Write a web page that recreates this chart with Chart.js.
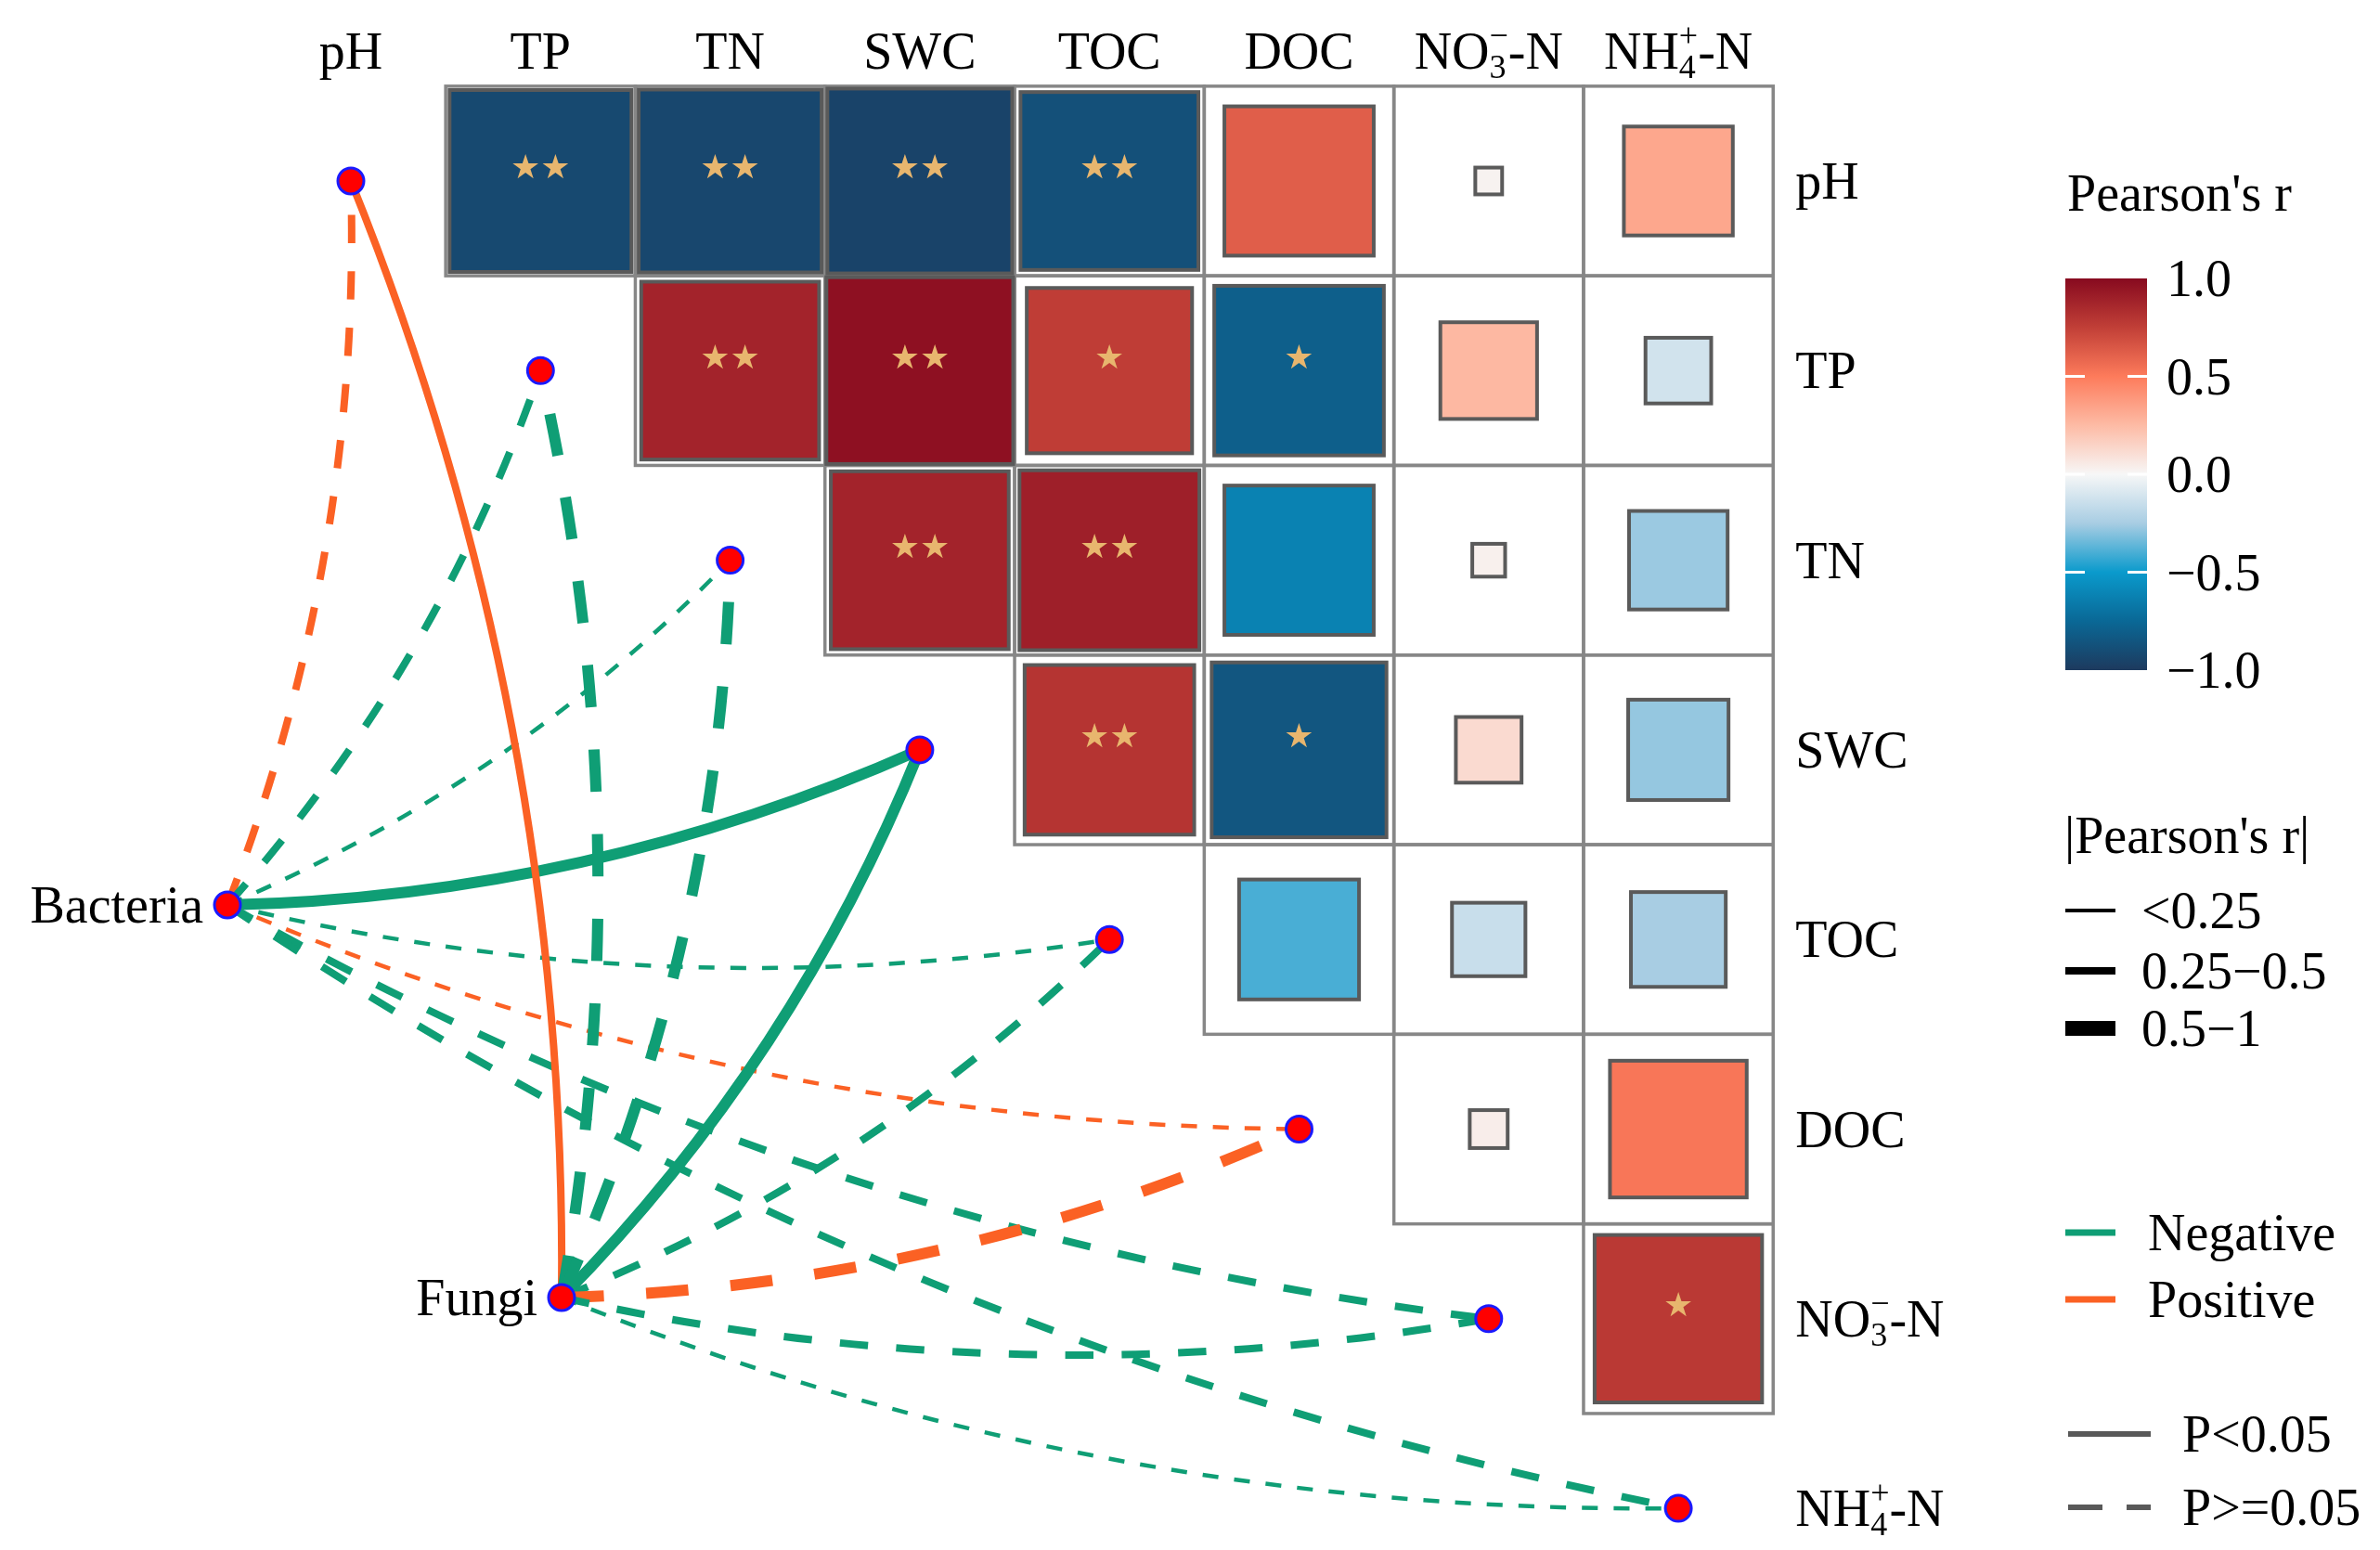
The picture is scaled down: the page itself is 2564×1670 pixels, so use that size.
<!DOCTYPE html>
<html>
<head>
<meta charset="utf-8">
<script src="https://cdn.jsdelivr.net/npm/chart.js@4.4.1/dist/chart.umd.min.js"></script>
<style>
  html, body { margin: 0; padding: 0; background: #fff; }
  #wrap { width: 2564px; height: 1670px; position: relative; }
</style>
</head>
<body>
<div id="wrap"><canvas id="chart"></canvas></div>
<script>
// --- data ---
const envVars = ['pH', 'TP', 'TN', 'SWC', 'TOC', 'DOC', 'NO3-N', 'NH4-N'];
const specNames = ['Bacteria', 'Fungi'];

// Pearson's r, upper triangle: each row against the variables to its right
const rowPH  = [-0.92, -0.93, -0.95, -0.88, 0.62, 0.02, 0.33];
const rowTP  = [0.88, 0.97, 0.76, -0.80, 0.26, -0.12];
const rowTN  = [0.88, 0.90, -0.62, 0.03, -0.27];
const rowSWC = [0.80, -0.85, 0.12, -0.28];
const rowTOC = [-0.40, -0.15, -0.25];
const rowDOC = [0.04, 0.52];
const rowNO3 = [0.78];

// significance marks, same layout
const sigPH  = ['**', '**', '**', '**', '', '', ''];
const sigTP  = ['**', '**', '*', '*', '', ''];
const sigTN  = ['**', '**', '', '', ''];
const sigSWC = ['**', '*', '', ''];
const sigTOC = ['', '', ''];
const sigDOC = ['', ''];
const sigNO3 = ['*'];

// Mantel links, order as envVars
const bacteriaR = [0.30, -0.35, -0.18, -0.60, -0.15, 0.20, -0.32, -0.35];
const bacteriaP = [0.12, 0.20, 0.45, 0.01, 0.40, 0.35, 0.18, 0.16];
const fungiR    = [0.42, -0.58, -0.55, -0.56, -0.30, 0.55, -0.34, -0.16];
const fungiP    = [0.03, 0.07, 0.09, 0.02, 0.25, 0.06, 0.22, 0.50];

const colorTicks = [1.0, 0.5, 0.0, -0.5, -1.0];

const corrRows = [rowPH, rowTP, rowTN, rowSWC, rowTOC, rowDOC, rowNO3];
const sigRows = [sigPH, sigTP, sigTN, sigSWC, sigTOC, sigDOC, sigNO3];

// --- layout ---
const W = 2564, H = 1670;
const CELL = 204.3, X0 = 378, Y0 = 195;
const specPos = [[-0.651, 3.818], [1.111, 5.888]];
const MAIN = '56px "Liberation Serif"';
const SMALL = '36px "Liberation Serif"';
const GREEN = '#0f9e75', ORANGE = '#fb6124';

const colorStops = [
    [-1, '#1d3a5e'], [-0.75, '#0a6896'], [-0.5, '#0a9acc'], [-0.25, '#a8cde3'],
    [0, '#f7f7f7'], [0.25, '#fdbba5'], [0.5, '#fd7b5b'], [0.75, '#c13f37'], [1, '#870a1f']
];

function hexRgb(h) {
    return [1, 3, 5].map(i => parseInt(h.slice(i, i + 2), 16));
}

function corrColor(r) {
    for (let k = 0; k < colorStops.length - 1; k++) {
        const [a, ca] = colorStops[k];
        const [b, cb] = colorStops[k + 1];
        if (r >= a && r <= b) {
            const t = (r - a) / (b - a);
            const A = hexRgb(ca), B = hexRgb(cb);
            const c = A.map((v, i) => Math.round(v + (B[i] - v) * t));
            return `rgb(${c[0]},${c[1]},${c[2]})`;
        }
    }
    return r < 0 ? colorStops[0][1] : colorStops[colorStops.length - 1][1];
}

const labelParts = {
    'NO3-N': ['NO', '3', '\u2212', '-N'],
    'NH4-N': ['NH', '4', '+', '-N']
};

function drawLabel(ctx, name, x, y, align) {
    ctx.fillStyle = '#000';
    ctx.textBaseline = 'alphabetic';
    const parts = labelParts[name];
    if (!parts) {
        ctx.font = MAIN;
        ctx.textAlign = align;
        ctx.fillText(name, x, y);
        return;
    }
    ctx.textAlign = 'left';
    ctx.font = MAIN;
    const w1 = ctx.measureText(parts[0]).width;
    const w3 = ctx.measureText(parts[3]).width;
    ctx.font = SMALL;
    const w2 = Math.max(ctx.measureText(parts[1]).width, ctx.measureText(parts[2]).width);
    const total = w1 + w2 + w3;
    const x0 = align === 'center' ? x - total / 2 : (align === 'right' ? x - total : x);
    ctx.font = MAIN;
    ctx.fillText(parts[0], x0, y);
    ctx.font = SMALL;
    ctx.fillText(parts[1], x0 + w1, y + 10);
    ctx.fillText(parts[2], x0 + w1, y - 24);
    ctx.font = MAIN;
    ctx.fillText(parts[3], x0 + w1 + w2, y);
}

function linkWidth(r) {
    const a = Math.abs(r);
    if (a < 0.25) return 4.5;
    if (a < 0.5) return 8;
    return 12;
}

// cells, grid and links
const corrPlugin = {
    id: 'corrPlugin',
    beforeDatasetsDraw(chart) {
        const ctx = chart.ctx;
        const xs = chart.scales.x, ys = chart.scales.y;
        const px = v => xs.getPixelForValue(v);
        const py = v => ys.getPixelForValue(v);
        ctx.save();

        // grid
        ctx.strokeStyle = '#878787';
        ctx.lineWidth = 3.5;
        corrRows.forEach((row, i) => {
            row.forEach((r, k) => {
                const j = i + 1 + k;
                const l = px(j - 0.5), rr = px(j + 0.5), t = py(i - 0.5), b = py(i + 0.5);
                ctx.strokeRect(l, t, rr - l, b - t);
            });
        });

        // squares
        corrRows.forEach((row, i) => {
            row.forEach((r, k) => {
                const j = i + 1 + k;
                const cx = px(j), cy = py(i);
                const side = Math.sqrt(Math.abs(r)) * (px(j + 0.5) - px(j - 0.5));
                ctx.fillStyle = corrColor(r);
                ctx.fillRect(cx - side / 2, cy - side / 2, side, side);
                ctx.strokeStyle = '#5a5a5a';
                ctx.lineWidth = 4;
                ctx.strokeRect(cx - side / 2, cy - side / 2, side, side);
                const s = sigRows[i][k];
                if (s) {
                    ctx.fillStyle = '#e8b66e';
                    ctx.font = '36px "DejaVu Sans"';
                    ctx.textAlign = 'center';
                    ctx.textBaseline = 'middle';
                    ctx.fillText(s === '**' ? '\u2605\u2605' : '\u2605', cx, cy - 12);
                }
            });
        });

        // links
        const links = [[bacteriaR, bacteriaP], [fungiR, fungiP]];
        links.forEach(([rs, ps], si) => {
            const sx = px(specPos[si][0]), sy = py(specPos[si][1]);
            rs.forEach((r, e) => {
                const ex = px(e), ey = py(e);
                const dx = ex - sx, dy = ey - sy;
                const cx = (sx + ex) / 2 - dy * 0.1;
                const cy = (sy + ey) / 2 + dx * 0.1;
                const w = linkWidth(r);
                ctx.strokeStyle = r < 0 ? GREEN : ORANGE;
                ctx.lineWidth = w;
                ctx.lineCap = 'butt';
                ctx.setLineDash(ps[e] < 0.05 ? [] : [3.8 * w, 3.8 * w]);
                ctx.beginPath();
                ctx.moveTo(sx, sy);
                ctx.quadraticCurveTo(cx, cy, ex, ey);
                ctx.stroke();
            });
        });
        ctx.setLineDash([]);
        ctx.restore();
    },
    afterDraw(chart) {
        const ctx = chart.ctx;
        const xs = chart.scales.x, ys = chart.scales.y;
        const px = v => xs.getPixelForValue(v);
        const py = v => ys.getPixelForValue(v);
        ctx.save();

        // column labels on top, row labels on the right
        envVars.forEach((name, i) => {
            drawLabel(ctx, name, px(i), 74, 'center');
            drawLabel(ctx, name, px(7.5) + 24, py(i) + 19, 'left');
        });
        specNames.forEach((name, si) => {
            drawLabel(ctx, name, px(specPos[si][0]) - 26, py(specPos[si][1]) + 19, 'right');
        });

        // colour bar
        const barL = 2225, barR = 2313, barT = 300, barB = 722;
        const grad = ctx.createLinearGradient(0, barB, 0, barT);
        colorStops.forEach(([v, c]) => grad.addColorStop((v + 1) / 2, c));
        ctx.fillStyle = grad;
        ctx.fillRect(barL, barT, barR - barL, barB - barT);
        const barY = v => barB - (v + 1) / 2 * (barB - barT);
        ctx.strokeStyle = '#fff';
        ctx.lineWidth = 3;
        colorTicks.forEach(v => {
            if (Math.abs(v) === 1) return;
            ctx.beginPath();
            ctx.moveTo(barL, barY(v)); ctx.lineTo(barL + 21, barY(v));
            ctx.moveTo(barR - 21, barY(v)); ctx.lineTo(barR, barY(v));
            ctx.stroke();
        });
        ctx.fillStyle = '#000';
        ctx.font = MAIN;
        ctx.textAlign = 'left';
        ctx.textBaseline = 'alphabetic';
        ctx.fillText("Pearson's r", 2227, 227);
        colorTicks.forEach(v => {
            const txt = (v < 0 ? '\u2212' : '') + Math.abs(v).toFixed(1);
            ctx.fillText(txt, 2334, barY(v) + 19);
        });

        // size legend
        ctx.fillText("|Pearson's r|", 2224, 919);
        const sizeKeys = [['<0.25', 4, 981], ['0.25\u22120.5', 8, 1046], ['0.5\u22121', 16, 1108]];
        sizeKeys.forEach(([txt, w, y]) => {
            ctx.fillStyle = '#000';
            ctx.fillRect(2225, y - w / 2, 54, w);
            ctx.fillText(txt, 2307, y + 19);
        });

        // sign legend
        [['Negative', GREEN, 1328], ['Positive', ORANGE, 1400]].forEach(([txt, c, y]) => {
            ctx.fillStyle = c;
            ctx.fillRect(2225, y - 3.5, 54, 7);
            ctx.fillStyle = '#000';
            ctx.fillText(txt, 2314, y + 19);
        });

        // p legend
        ctx.strokeStyle = '#595959';
        ctx.lineWidth = 6;
        ctx.beginPath(); ctx.moveTo(2228, 1545); ctx.lineTo(2317, 1545); ctx.stroke();
        ctx.setLineDash([37, 26]);
        ctx.beginPath(); ctx.moveTo(2228, 1624); ctx.lineTo(2317, 1624); ctx.stroke();
        ctx.setLineDash([]);
        ctx.fillStyle = '#000';
        ctx.fillText('P<0.05', 2351, 1545 + 19);
        ctx.fillText('P>=0.05', 2351, 1624 + 19);
        ctx.restore();
    }
};

const nodePoints = envVars.map((v, i) => ({ x: i, y: i }))
    .concat(specPos.map(p => ({ x: p[0], y: p[1] })));

new Chart(document.getElementById('chart'), {
    type: 'scatter',
    data: {
        datasets: [{
            data: nodePoints,
            pointRadius: 14,
            pointBackgroundColor: '#ff0000',
            pointBorderColor: '#1a1aff',
            pointBorderWidth: 3,
            clip: false
        }]
    },
    options: {
        responsive: true,
        maintainAspectRatio: false,
        devicePixelRatio: 1,
        animation: false,
        layout: { padding: 0, autoPadding: false },
        plugins: { legend: { display: false }, tooltip: { enabled: false } },
        scales: {
            x: { type: 'linear', display: false, min: -X0 / CELL, max: (W - X0) / CELL },
            y: { type: 'linear', display: false, reverse: true, min: -Y0 / CELL, max: (H - Y0) / CELL }
        }
    },
    plugins: [corrPlugin]
});
</script>
</body>
</html>
